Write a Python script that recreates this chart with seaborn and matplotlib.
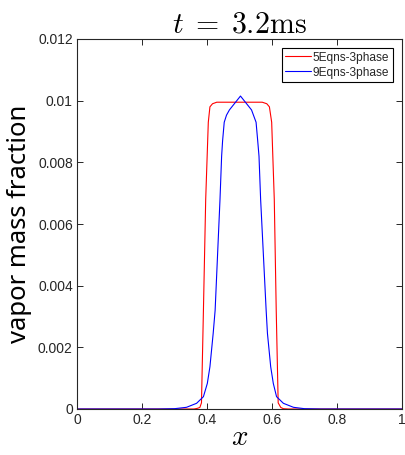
import numpy as np
import pandas as pd
import matplotlib
matplotlib.use("Agg")
import matplotlib.pyplot as plt
import seaborn as sns

# ---- data ----
red_label = "5Eqns-3phase"
blue_label = "9Eqns-3phase"

red_x = [0.0, 0.30, 0.36, 0.370, 0.378, 0.383, 0.389, 0.396, 0.404, 0.409, 0.417, 0.430,
         0.50, 0.570, 0.584, 0.592, 0.599, 0.607, 0.613, 0.619, 0.627, 0.635, 0.65, 0.70, 1.0]
red_y = [0.0, 0.0, 0.0, 0.00002, 0.00005, 0.0002, 0.0032, 0.0068, 0.0093, 0.0098, 0.0099, 0.00995,
         0.00995, 0.00995, 0.0099, 0.0098, 0.0093, 0.0068, 0.0032, 0.0002, 0.00005, 0.00001, 0.0, 0.0, 0.0]

blue_x = [0.0, 0.25, 0.30, 0.337, 0.368, 0.389, 0.401, 0.409, 0.419, 0.425, 0.440, 0.445, 0.448,
          0.453, 0.460, 0.469, 0.503, 0.537, 0.551, 0.556, 0.560, 0.565, 0.582, 0.586, 0.596,
          0.604, 0.614, 0.635, 0.666, 0.70, 0.75, 1.0]
blue_y = [0.0, 0.0, 0.00001, 0.000055, 0.000185, 0.0004, 0.00083, 0.00137, 0.00245, 0.0032, 0.0068,
          0.0082, 0.0087, 0.0093, 0.00953, 0.0097, 0.01015, 0.0097, 0.0093, 0.0087, 0.0082, 0.0068,
          0.0032, 0.00245, 0.00137, 0.00083, 0.0004, 0.000185, 0.000055, 0.00001, 0.0, 0.0]

x_ticks = [0, 0.2, 0.4, 0.6, 0.8, 1]
x_tick_labels = ["0", "0.2", "0.4", "0.6", "0.8", "1"]
y_ticks = [0, 0.002, 0.004, 0.006, 0.008, 0.010, 0.012]
y_tick_labels = ["0", "0.002", "0.004", "0.006", "0.008", "0.01", "0.012"]

title_text = r"$t\;=\;3.2\mathrm{ms}$"
xlabel_text = r"$x$"
ylabel_text = "vapor mass fraction"

# ---- style ----
sns.set_theme(style="ticks")
plt.rcParams["mathtext.fontset"] = "cm"
plt.rcParams["font.family"] = ["Liberation Sans Narrow", "Liberation Sans", "DejaVu Sans"]

df = pd.concat([
    pd.DataFrame({"x": red_x, "y": red_y, "series": red_label}),
    pd.DataFrame({"x": blue_x, "y": blue_y, "series": blue_label}),
], ignore_index=True)

W, H = 406, 455
fig = plt.figure(figsize=(W / 100, H / 100), dpi=100)
ax = fig.add_axes([77 / W, 1 - 409 / H, (402 - 77) / W, (409 - 39) / H])

sns.lineplot(data=df, x="x", y="y", hue="series", palette={red_label: "#ff0000", blue_label: "#0000ff"},
             sort=False, linewidth=0.8, ax=ax, estimator=None)

ax.set_xlim(0, 1)
ax.set_ylim(0, 0.012)
ax.set_xticks(x_ticks)
ax.set_xticklabels(x_tick_labels)
ax.set_yticks(y_ticks)
ax.set_yticklabels(y_tick_labels)

gray = "#262626"
ax.tick_params(direction="in", length=4, width=0.7, colors=gray, labelsize=10,
               top=True, right=True, pad=3)
for sp in ax.spines.values():
    sp.set_visible(True)
    sp.set_color(gray)
    sp.set_linewidth(0.8)

ax.set_title(title_text, fontsize=21.5, pad=5, color="black")
ax.set_xlabel(xlabel_text, fontsize=21, labelpad=-3, color="black")
ax.set_ylabel(ylabel_text, fontsize=18.5, family=["Noto Sans", "DejaVu Sans"], labelpad=4, color="black")

leg = ax.legend(loc="upper right", fontsize=8.6, frameon=True, fancybox=False, edgecolor="black",
                handlelength=2.1, handletextpad=0.2, borderpad=0.3, labelspacing=0.25,
                borderaxespad=0.75, framealpha=1)
leg.get_frame().set_linewidth(0.8)
for t in leg.get_texts():
    t.set_color(gray)

fig.savefig("out.png", dpi=100)
